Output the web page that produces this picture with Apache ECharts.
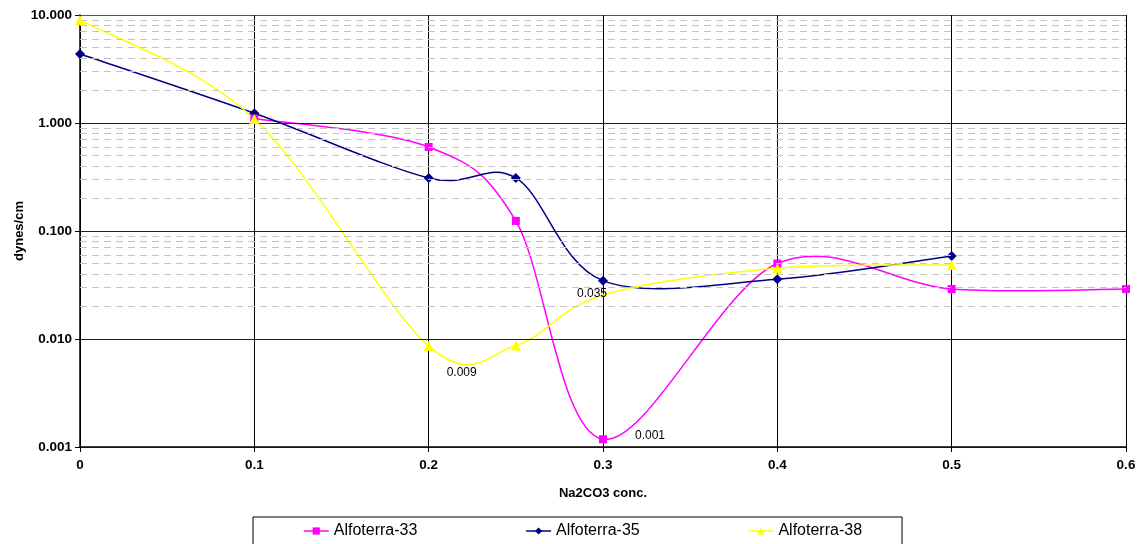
<!DOCTYPE html>
<html>
  <head>
    <meta charset="utf-8" />
    <title>Alfoterra IFT</title>
    <script src="https://cdn.jsdelivr.net/npm/echarts@6/dist/echarts.min.js"></script>
    <style>
      html, body { margin: 0; padding: 0; background: #fff; }
      #main { width: 1140px; height: 544px; }
    </style>
  </head>
  <body>
    <div id="main"></div>
    <script type="text/javascript">
// data
let conc33 = [0.1, 0.2, 0.25, 0.3, 0.4, 0.5, 0.6];
let ift33 = [1.1, 0.6, 0.124, 0.00118, 0.050, 0.029, 0.029];
let conc35 = [0, 0.1, 0.2, 0.25, 0.3, 0.4, 0.5];
let ift35 = [4.35, 1.23, 0.31, 0.31, 0.0347, 0.0357, 0.0587];
let conc38 = [0, 0.1, 0.2, 0.25, 0.3, 0.4, 0.5];
let ift38 = [9.0, 1.09, 0.0086, 0.0087, 0.0256, 0.0452, 0.0484];
let yTicks = [0.001, 0.01, 0.1, 1, 10];

var myChart = echarts.init(document.getElementById('main'));

// dashed minor lines at 2..9 of every decade, solid ones on the decades
let minorLines = [];
for (let d = 0; d < yTicks.length - 1; d++) {
  for (let k = 2; k <= 9; k++) {
    minorLines.push({ yAxis: yTicks[d] * k });
  }
}
yTicks.slice(1, 4).forEach(function (t) {
  minorLines.push({ yAxis: t, lineStyle: { type: 'solid', color: '#222', width: 1.2 } });
});

function pairs(xs, ys, labels) {
  return xs.map(function (x, i) {
    let item = { value: [x, ys[i]] };
    if (labels && labels[i]) item = Object.assign(item, labels[i]);
    return item;
  });
}

function dataLabel(text, dx, dy) {
  return {
    label: {
      show: true,
      position: 'inside',
      offset: [dx, dy],
      formatter: text,
      color: '#000',
      fontSize: 12,
      fontFamily: 'Liberation Sans, Arial'
    }
  };
}

// Excel-like smoothed curve (Catmull-Rom through the axis coordinates)
function curveSeries(xs, ys, color) {
  return {
    type: 'custom',
    silent: true,
    z: 2,
    data: pairs(xs, ys),
    renderItem: function (params, api) {
      let i = params.dataIndex;
      if (i >= xs.length - 1) return null;
      let p = function (j) {
        j = Math.max(0, Math.min(xs.length - 1, j));
        return api.coord([xs[j], ys[j]]);
      };
      let p0 = p(i - 1), p1 = p(i), p2 = p(i + 1), p3 = p(i + 2);
      let t = 1 / 6;
      let c1 = [p1[0] + (p2[0] - p0[0]) * t, p1[1] + (p2[1] - p0[1]) * t];
      let c2 = [p2[0] - (p3[0] - p1[0]) * t, p2[1] - (p3[1] - p1[1]) * t];
      return {
        type: 'bezierCurve',
        shape: { x1: p1[0], y1: p1[1], x2: p2[0], y2: p2[1], cpx1: c1[0], cpy1: c1[1], cpx2: c2[0], cpy2: c2[1] },
        style: { stroke: color, lineWidth: 1.5, fill: null }
      };
    }
  };
}

let labels33 = { 3: dataLabel('0.001', 47, -4) };
let labels35 = { 4: dataLabel('0.035', -11, 13) };
let labels38 = { 2: dataLabel('0.009', 33, 27), 4: { symbol: 'none' } };

let colors = ['#ff00ff', '#000080', '#ffff00'];
let names = ['Alfoterra-33', 'Alfoterra-35', 'Alfoterra-38'];

option = {
  backgroundColor: '#fff',
  animation: false,
  textStyle: { fontFamily: 'Liberation Sans, Arial' },
  grid: { left: 80, right: 14, top: 15, bottom: 97, containLabel: false },
  legend: {
    data: names.map(function (n, i) {
      return { name: n, lineStyle: { color: colors[i], width: 1.5, opacity: 1 } };
    }),
    left: 253,
    top: 517,
    orient: 'horizontal',
    borderColor: '#000',
    borderWidth: 1,
    borderRadius: 0,
    padding: [6, 40, 12, 50],
    itemGap: 108,
    itemWidth: 25,
    itemHeight: 9,
    textStyle: { fontSize: 16, color: '#000', fontFamily: 'Liberation Sans, Arial' }
  },
  xAxis: {
    type: 'value',
    min: 0,
    max: 0.6,
    interval: 0.1,
    name: 'Na2CO3 conc.',
    nameLocation: 'middle',
    nameGap: 40,
    nameTextStyle: { fontWeight: 'bold', fontSize: 13, color: '#000' },
    axisLine: { lineStyle: { color: '#000', width: 1.5 } },
    axisTick: { show: true, length: 5, lineStyle: { color: '#000' } },
    axisLabel: { fontWeight: 'bold', fontSize: 13.5, color: '#000', margin: 11 },
    splitLine: { show: true, lineStyle: { color: '#000', width: 1 } }
  },
  yAxis: {
    type: 'log',
    logBase: 10,
    min: 0.001,
    max: 10,
    name: 'dynes/cm',
    nameLocation: 'middle',
    nameGap: 54,
    nameMoveOverlap: false,
    nameTextStyle: { fontWeight: 'bold', fontSize: 13, color: '#000' },
    axisLine: { show: true, lineStyle: { color: '#000', width: 1.5 } },
    axisTick: { show: true, length: 5, lineStyle: { color: '#000' } },
    axisLabel: {
      fontWeight: 'bold',
      fontSize: 13.5,
      color: '#000',
      margin: 8,
      formatter: function (v) { return v.toFixed(3); }
    },
    splitLine: { show: true, lineStyle: { color: '#555', width: 1.2 } }
  },
  series: [
    {
      name: 'minor',
      type: 'line',
      data: [],
      silent: true,
      z: 1,
      markLine: {
        silent: true,
        symbol: 'none',
        label: { show: false },
        animation: false,
        lineStyle: { type: [7, 5], color: '#c4c4c4', width: 1.2 },
        data: minorLines
      }
    },
    curveSeries(conc33, ift33, colors[0]),
    curveSeries(conc35, ift35, colors[1]),
    curveSeries(conc38, ift38, colors[2]),
    {
      name: names[0],
      type: 'line',
      z: 4,
      symbol: 'rect',
      symbolSize: 8,
      color: colors[0],
      lineStyle: { width: 0, opacity: 0 },
      itemStyle: { color: colors[0] },
      data: pairs(conc33, ift33, labels33)
    },
    {
      name: names[1],
      type: 'line',
      z: 3,
      symbol: 'diamond',
      symbolSize: 10,
      color: colors[1],
      lineStyle: { width: 0, opacity: 0 },
      itemStyle: { color: colors[1] },
      data: pairs(conc35, ift35, labels35)
    },
    {
      name: names[2],
      type: 'line',
      z: 5,
      symbol: 'triangle',
      symbolSize: 10,
      color: colors[2],
      lineStyle: { width: 0, opacity: 0 },
      itemStyle: { color: colors[2] },
      data: pairs(conc38, ift38, labels38)
    }
  ]
};

myChart.setOption(option);
    </script>
  </body>
</html>
